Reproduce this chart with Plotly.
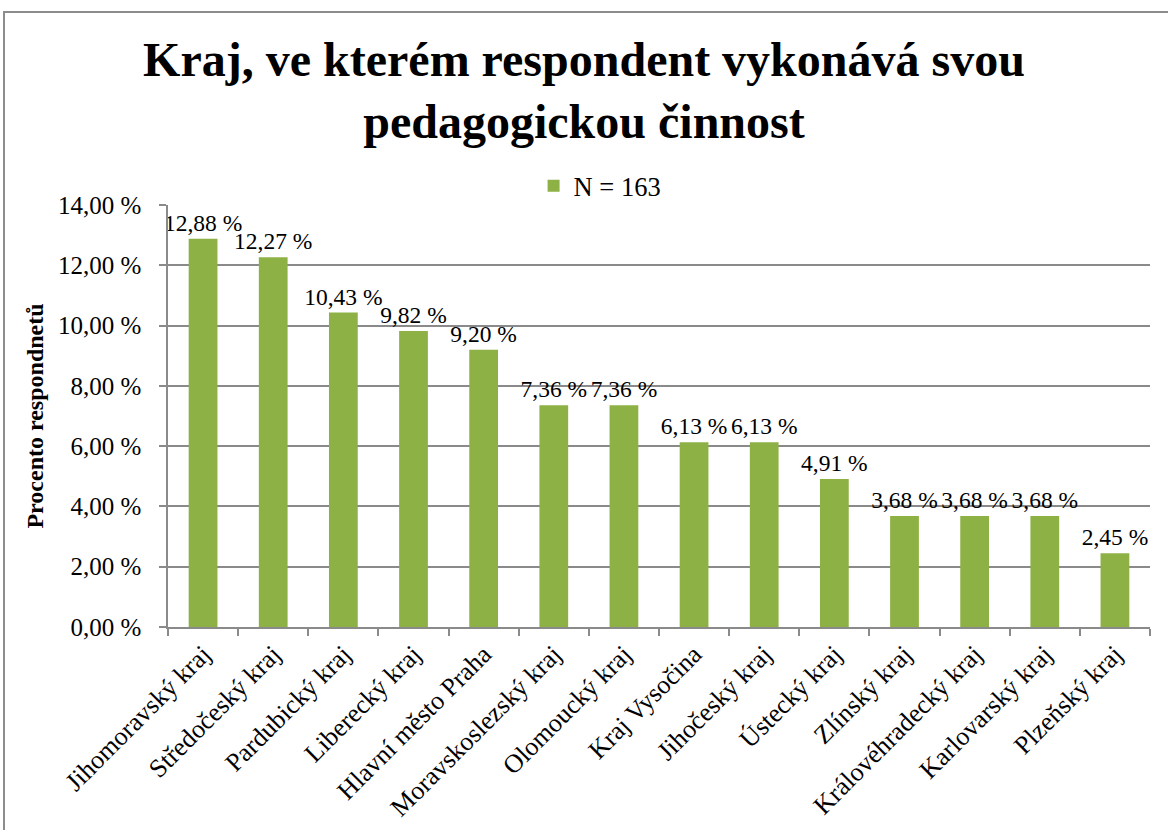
import plotly.graph_objects as go

regions = ["Jihomoravský kraj", "Středočeský kraj", "Pardubický kraj", "Liberecký kraj",
           "Hlavní město Praha", "Moravskoslezský kraj", "Olomoucký kraj", "Kraj Vysočina",
           "Jihočeský kraj", "Ústecký kraj", "Zlínský kraj", "Královéhradecký kraj",
           "Karlovarský kraj", "Plzeňský kraj"]
percent = [12.88, 12.27, 10.43, 9.82, 9.20, 7.36, 7.36, 6.13, 6.13, 4.91, 3.68, 3.68, 3.68, 2.45]
series_name = "N = 163"
y_ticks = [0, 2, 4, 6, 8, 10, 12, 14]
y_tick_labels = ["0,00 %", "2,00 %", "4,00 %", "6,00 %", "8,00 %", "10,00 %", "12,00 %", "14,00 %"]

labels = [f"{v:.2f}".replace(".", ",") + " %" for v in percent]

SERIF = "Liberation Serif, Times New Roman, serif"
GRID = "#8a8a8a"

fig = go.Figure()
fig.add_trace(go.Bar(
    x=regions, y=percent, name=series_name,
    marker=dict(color="#8db144", line=dict(width=0)),
    text=labels, textposition="outside", cliponaxis=False, constraintext="none",
    textfont=dict(family=SERIF, size=23.5, color="#000000"),
))

fig.update_layout(
    width=1168, height=830,
    paper_bgcolor="white", plot_bgcolor="white",
    margin=dict(l=168, r=18, t=205, b=203, autoexpand=False),
    title=dict(text="<b>Kraj, ve kterém respondent vykonává svou<br>pedagogickou činnost</b>",
               x=0.5, xanchor="center", y=1 - 76 / 830, yanchor="top",
               font=dict(family=SERIF, size=48, color="#000000")),
    font=dict(family=SERIF, color="#000000"),
    bargap=0.59,
    showlegend=True,
    legend=dict(orientation="h", x=0.44, xanchor="center", y=1.045, yanchor="middle",
                font=dict(family=SERIF, size=26.5, color="#000000"),
                itemwidth=30, bgcolor="rgba(0,0,0,0)"),
    xaxis=dict(tickangle=-45, tickfont=dict(family=SERIF, size=26, color="#000000"),
               automargin=False,
               showline=True, linecolor=GRID, linewidth=1.5,
               ticks="outside", ticklen=7, tickcolor=GRID, tickwidth=1.5,
               tickson="boundaries", showgrid=False),
    yaxis=dict(range=[0, 14], tickvals=y_ticks, ticktext=y_tick_labels,
               tickfont=dict(family=SERIF, size=25, color="#000000"),
               ticklabelstandoff=13, automargin=False,
               showline=True, linecolor=GRID, linewidth=1.5,
               ticks="outside", ticklen=7, tickcolor=GRID, tickwidth=1.5,
               showgrid=True, gridcolor=GRID, gridwidth=1.5, zeroline=False,
               title=dict(text="<b>Procento respondnetů</b>", standoff=8,
                          font=dict(family=SERIF, size=24, color="#000000"))),
    shapes=[dict(type="rect", xref="paper", yref="paper",
                 x0=(4 - 168) / 982, x1=1.2, y0=-1.0, y1=(627 - 12) / 422,
                 line=dict(color="#8c8c8c", width=2), fillcolor="rgba(0,0,0,0)", layer="below")],
)

fig.write_html("out.html", config={"displayModeBar": False},
               post_script="document.body.style.margin='0';")
